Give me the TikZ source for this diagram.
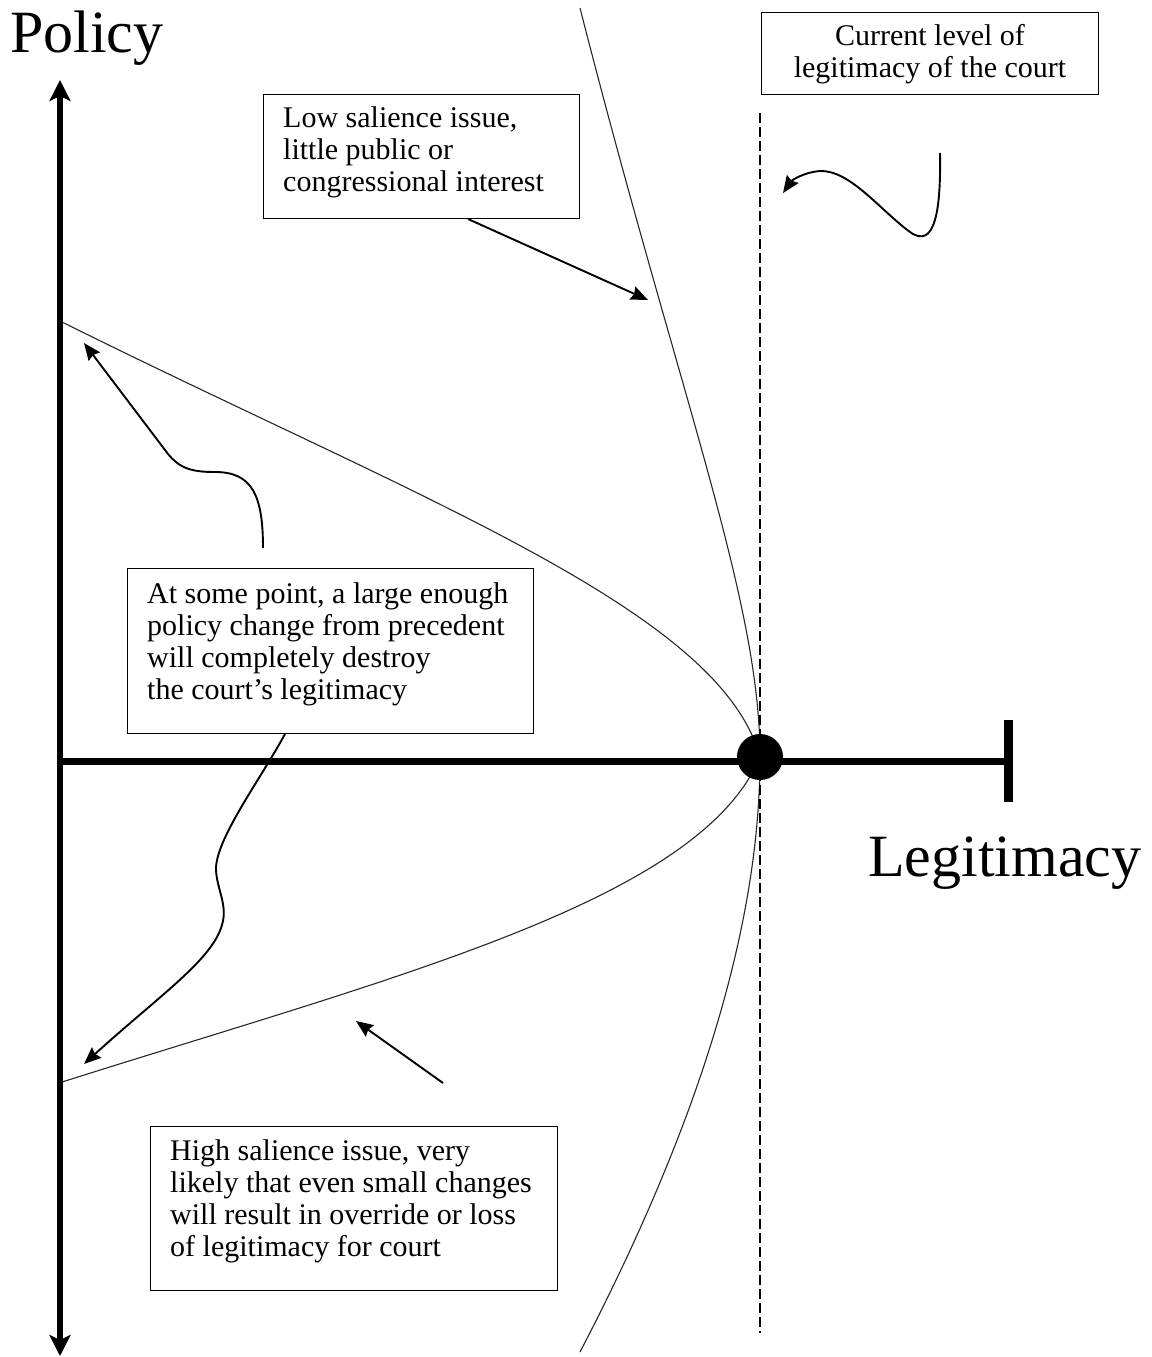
\documentclass[tikz,border=0pt]{standalone}
\usepackage{fontspec}
\setmainfont{Liberation Serif}
\usetikzlibrary{arrows.meta}
\newcommand{\boxfont}{\fontsize{30pt}{32.3pt}\selectfont}
\newcommand{\labfont}{\fontsize{60pt}{64pt}\selectfont}
\begin{document}
\begin{tikzpicture}[x=1pt,y=-1pt,
  axisline/.style={line width=6pt},
  thincurve/.style={line width=1.1pt, black!85},
  callout/.style={line width=1.9pt, -{Stealth[length=17pt,width=14pt,inset=2pt]}},
  boxstyle/.style={draw, line width=1.4pt, inner sep=0pt, anchor=north west},
  txt/.style={anchor=base west, inner sep=0pt, font=\boxfont},
  lab/.style={anchor=base west, inner sep=0pt, font=\labfont}]
\useasboundingbox (0,0) rectangle (1151,1357);

% key coordinates
\coordinate (O) at (760,757);
\coordinate (vtop) at (60,80);
\coordinate (vbot) at (60,1356);
\coordinate (hleft) at (60,761);
\coordinate (hright) at (1008,761);
\coordinate (bartop) at (1008,720);
\coordinate (barbot) at (1008,802);
\coordinate (lsTop) at (580,8);
\coordinate (lsBot) at (580,1352);
\coordinate (hsTop) at (62,322);
\coordinate (hsBot) at (62,1082);
\coordinate (dashTop) at (760,113);
\coordinate (dashBot) at (760,1333);

% thin curves
\draw[thincurve] (lsTop) .. controls (680,400) and (760,600) .. (O);
\draw[thincurve] (O) .. controls (760,950) and (680,1160) .. (lsBot);
\draw[thincurve] (hsTop) .. controls (420,500) and (720,610) .. (O);
\draw[thincurve] (hsBot) .. controls (400,975) and (700,900) .. (O);

% dashed current-level line
\draw[line width=1.4pt, dash pattern=on 10pt off 4pt] (dashTop) -- (dashBot);

% axes
\draw[axisline, {Stealth[length=21pt,width=21pt,inset=5pt]}-{Stealth[length=21pt,width=21pt,inset=5pt]}] (vtop) -- (vbot);
\draw[line width=7pt] (hleft) -- (hright);
\draw[line width=9pt] (bartop) -- (barbot);
\node[circle, fill=black, inner sep=0pt, minimum size=46pt] (dot) at (O) {};

% axis labels
\node[lab] (policy) at (10,52) {Policy};
\node[lab] (legit) at (868,876) {Legitimacy};

% boxes
\node[boxstyle, minimum width=316pt, minimum height=124pt] (b1) at (263,94) {};
\node[txt] (t1) at (283,127) {\parbox[t]{300pt}{Low salience issue,\\little public or\\congressional interest}};

\node[boxstyle, minimum width=337pt, minimum height=82pt] (b2) at (761,12) {};
\node[anchor=base, inner sep=0pt, font=\boxfont] (t2) at (930,45) {\parbox[t]{330pt}{\centering Current level of\\legitimacy of the court}};

\node[boxstyle, minimum width=406pt, minimum height=165pt] (b3) at (127,568) {};
\node[txt] (t3) at (147,603) {\parbox[t]{390pt}{At some point, a large enough\\policy change from precedent\\will completely destroy\\the court’s legitimacy}};

\node[boxstyle, minimum width=407pt, minimum height=164pt] (b4) at (150,1126) {};
\node[txt] (t4) at (170,1160) {\parbox[t]{390pt}{High salience issue, very\\likely that even small changes\\will result in override or loss\\of legitimacy for court}};

% callout arrows
\coordinate (a1s) at (468,219);
\coordinate (a1e) at (648,300);
\draw[callout] (a1s) -- (a1e);

\coordinate (a2s) at (940,153);
\coordinate (a2e) at (783,193);
\draw[callout] (a2s) .. controls (941,210) and (935,250) .. (910,232)
  .. controls (880,210) and (850,170) .. (820,171)
  .. controls (805,172) and (792,180) .. (a2e);

\coordinate (a3s) at (263,548);
\coordinate (a3e) at (84,343);
\draw[callout] (a3s) .. controls (263,495) and (252,472) .. (215,472)
  .. controls (190,472) and (178,468) .. (165,450) -- (a3e);

\coordinate (a4s) at (285,734);
\coordinate (a4e) at (84,1064);
\draw[callout] (a4s) .. controls (260,780) and (215,840) .. (216,870)
  .. controls (217,890) and (228,905) .. (222,925)
  .. controls (212,960) and (160,995) .. (a4e);

\coordinate (a5s) at (443,1083);
\coordinate (a5e) at (356,1021);
\draw[callout] (a5s) -- (a5e);
\end{tikzpicture}
\end{document}
